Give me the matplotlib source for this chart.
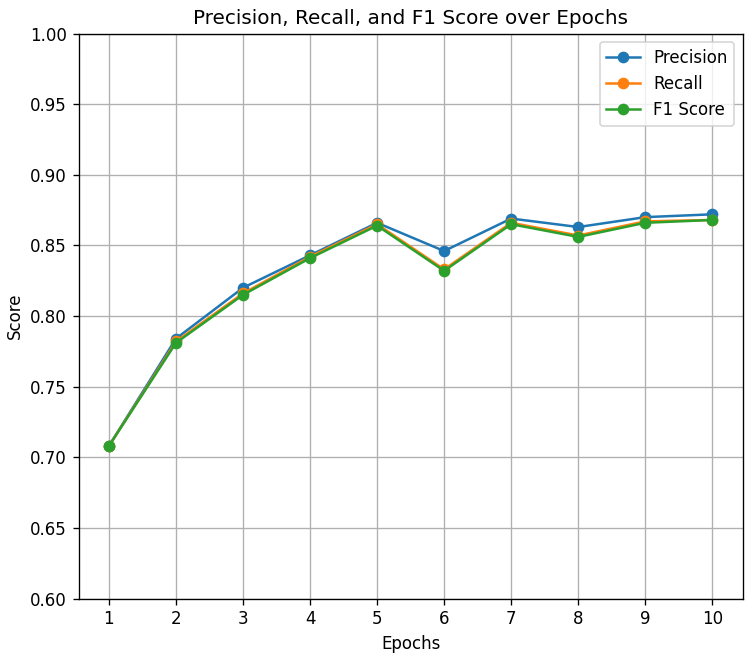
import matplotlib
matplotlib.use("Agg")
import matplotlib.pyplot as plt

epochs = [1, 2, 3, 4, 5, 6, 7, 8, 9, 10]
precision = [0.708, 0.784, 0.820, 0.843, 0.866, 0.846, 0.869, 0.863, 0.870, 0.872]
recall = [0.708, 0.782, 0.816, 0.842, 0.865, 0.833, 0.866, 0.857, 0.867, 0.868]
f1_score = [0.708, 0.781, 0.815, 0.841, 0.864, 0.832, 0.865, 0.856, 0.866, 0.868]

# rendered a bit larger than default, as in the reference
fig, ax = plt.subplots(figsize=(6.25, 5.475), dpi=120)

ax.plot(epochs, precision, marker='o', label='Precision')
ax.plot(epochs, recall, marker='o', label='Recall')
ax.plot(epochs, f1_score, marker='o', label='F1 Score')

ax.set_title('Precision, Recall, and F1 Score over Epochs')
ax.set_xlabel('Epochs')
ax.set_ylabel('Score')
ax.set_xticks(epochs)
ax.set_ylim(0.6, 1.0)
ax.grid(True)
ax.legend(loc='upper right')

fig.subplots_adjust(left=0.105, right=0.990, top=0.949, bottom=0.089)
fig.savefig('out.png', dpi=120)
